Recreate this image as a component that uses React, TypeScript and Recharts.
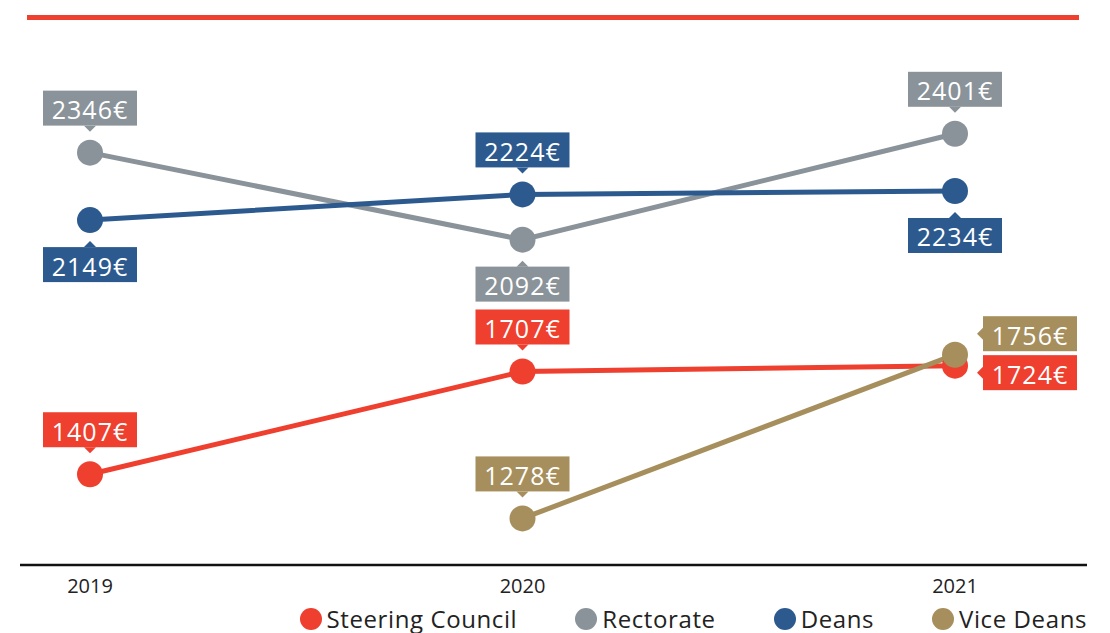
import { LineChart, Line, XAxis, YAxis, Legend, LabelList } from 'recharts';

const years = ['2019', '2020', '2021'];
const steeringCouncil = [1407, 1707, 1724];
const rectorate = [2346, 2092, 2401];
const deans = [2149, 2224, 2234];
const viceDeans: (number | null)[] = [null, 1278, 1756];

const FONT = '"Open Sans", sans-serif';

type Side = 'top' | 'bottom' | 'right';
type Place = { side: Side; dy?: number };

const series: { key: string; name: string; color: string; values: (number | null)[]; places: Place[] }[] = [
  {
    key: 'steering',
    name: 'Steering Council',
    color: '#EE3F2F',
    values: steeringCouncil,
    places: [{ side: 'top' }, { side: 'top' }, { side: 'right', dy: 7 }],
  },
  {
    key: 'rectorate',
    name: 'Rectorate',
    color: '#8A9399',
    values: rectorate,
    places: [{ side: 'top' }, { side: 'bottom' }, { side: 'top' }],
  },
  {
    key: 'deans',
    name: 'Deans',
    color: '#2C5A8F',
    values: deans,
    places: [{ side: 'bottom' }, { side: 'top' }, { side: 'bottom' }],
  },
  {
    key: 'vice',
    name: 'Vice Deans',
    color: '#A68F5C',
    values: viceDeans,
    places: [{ side: 'top' }, { side: 'top' }, { side: 'right', dy: -21 }],
  },
];

const data = years.map((year, i) => {
  const row: Record<string, string | number | null> = { year };
  series.forEach((s) => {
    row[s.key] = s.values[i];
  });
  return row;
});

function Callout({ x, y, value, color, place }: any) {
  if (value == null || x == null || y == null || !place) return null;
  const w = 94;
  const h = 35;
  let bx = x - w / 2;
  let by = 0;
  let tri = '';
  if (place.side === 'top') {
    by = y - 62;
    tri = `${x - 6},${by + h} ${x + 6},${by + h} ${x},${by + h + 6}`;
  } else if (place.side === 'bottom') {
    by = y + 27;
    tri = `${x - 6},${by} ${x + 6},${by} ${x},${by - 6}`;
  } else {
    bx = x + 28;
    by = y + (place.dy || 0) - h / 2;
    tri = `${bx},${by + h / 2 - 6} ${bx},${by + h / 2 + 6} ${bx - 6},${by + h / 2}`;
  }
  return (
    <g>
      <rect x={bx} y={by} width={w} height={h} fill={color} />
      <polygon points={tri} fill={color} />
      <text
        x={bx + w / 2}
        y={by + h / 2 + 1}
        textAnchor="middle"
        dominantBaseline="central"
        fill="#fff"
        fontSize={25}
        fontFamily={FONT}
        letterSpacing={1}
      >
        {value}€
      </text>
    </g>
  );
}

// legend drawn in series order (recharts sorts its payload by name)
function LegendRow() {
  return (
    <div
      style={{
        height: 28,
        lineHeight: '28px',
        display: 'flex',
        justifyContent: 'flex-end',
        alignItems: 'center',
        gap: 58,
        fontFamily: FONT,
        fontSize: 24,
        letterSpacing: 0.6,
        color: '#222',
      }}
    >
      {series.map((s) => (
        <div key={s.key} style={{ display: 'flex', alignItems: 'center', gap: 5 }}>
          <span style={{ width: 22, height: 22, borderRadius: '50%', background: s.color, display: 'inline-block' }} />
          <span>{s.name}</span>
        </div>
      ))}
    </div>
  );
}

export default function App() {
  return (
    <div style={{ position: 'relative', width: 1110, height: 633, background: '#fff' }}>
      <style>{'body{margin:0}'}</style>
      {/* header rule */}
      <div style={{ position: 'absolute', left: 27, top: 15, width: 1052, height: 5, background: '#EE3F2F' }} />
      <LineChart width={1110} height={633} data={data} margin={{ top: 17, right: 23, bottom: 0, left: 20 }}>
        <XAxis
          dataKey="year"
          padding={{ left: 70, right: 132 }}
          axisLine={{ stroke: '#111', strokeWidth: 2.5 }}
          tickLine={false}
          tickMargin={8}
          height={40}
          tick={{ fontSize: 20, fill: '#222', fontFamily: FONT }}
        />
        <YAxis hide domain={[1142, 2742]} />
        <Legend verticalAlign="bottom" content={<LegendRow />} />
        {series.map((s) => (
          <Line
            key={s.key}
            dataKey={s.key}
            name={s.name}
            stroke={s.color}
            strokeWidth={5}
            dot={{ r: 13, fill: s.color, stroke: s.color, strokeWidth: 0 }}
            activeDot={false}
            isAnimationActive={false}
          >
            <LabelList
              dataKey={s.key}
              content={(p: any) => <Callout {...p} color={s.color} place={s.places[p.index]} />}
            />
          </Line>
        ))}
      </LineChart>
    </div>
  );
}
